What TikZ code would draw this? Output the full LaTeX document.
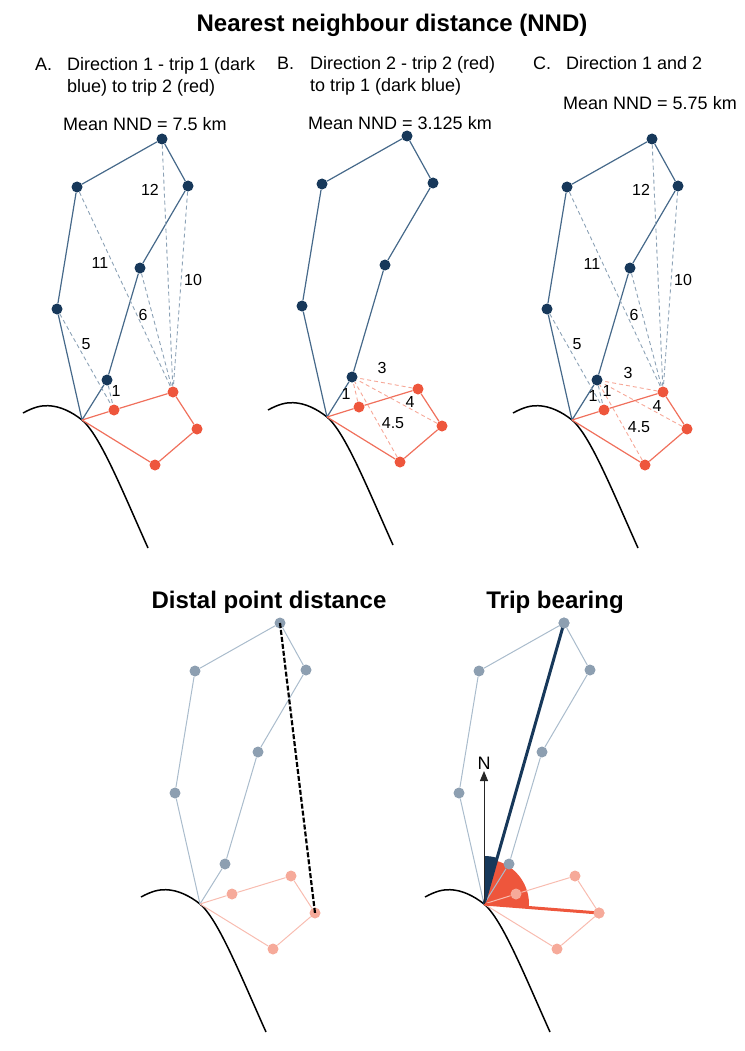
\documentclass[tikz,border=0pt]{standalone}
\usepackage{fontspec}
\setmainfont{Liberation Sans}
\usepackage{xcolor}
\definecolor{tripnavy}{RGB}{23,56,90}
\definecolor{tripblue}{RGB}{70,105,138}
\definecolor{tripdash}{RGB}{140,162,182}
\definecolor{tripred}{RGB}{238,86,60}
\definecolor{tripredline}{RGB}{240,112,92}
\definecolor{tripreddash}{RGB}{246,168,152}
\definecolor{fadeblue}{RGB}{141,159,177}
\definecolor{fadeblueline}{RGB}{170,188,204}
\definecolor{fadered}{RGB}{246,170,154}
\definecolor{faderedline}{RGB}{248,188,176}
\usetikzlibrary{arrows.meta, positioning, calc}

\begin{document}
\begin{tikzpicture}[x=1pt, y=-1pt,
  bdot/.style={circle, fill=tripnavy, inner sep=0pt, minimum size=11pt},
  rdot/.style={circle, fill=tripred, inner sep=0pt, minimum size=11pt},
  gdot/.style={circle, fill=fadeblue, inner sep=0pt, minimum size=11pt},
  sdot/.style={circle, fill=fadered, inner sep=0pt, minimum size=11pt},
  bline/.style={tripblue, line width=1.2pt},
  rline/.style={tripredline, line width=1.2pt},
  gline/.style={fadeblueline, line width=1pt},
  sline/.style={faderedline, line width=1pt},
  bdash/.style={tripdash, line width=0.9pt, dash pattern=on 4pt off 3pt},
  rdash/.style={tripreddash, line width=0.9pt, dash pattern=on 4pt off 3pt},
  coast/.style={black, line width=1.5pt},
  txt/.style={font=\fontsize{18}{22}\selectfont, inner sep=0pt},
  lbl/.style={font=\fontsize{16}{19}\selectfont, inner sep=0pt},
  heading/.style={font=\fontsize{24}{28}\selectfont\bfseries, inner sep=0pt}]
  \useasboundingbox (0,0) rectangle (744,1051);

  % Headings
  \node[heading, anchor=base] (nndtitle) at (392,32) {Nearest neighbour distance (NND)};
  \node[heading, anchor=base] (dpdtitle) at (269,608) {Distal point distance};
  \node[heading, anchor=base] (bearingtitle) at (555,608) {Trip bearing};

  % Panel headers
  \node[txt, anchor=base west] (A-tag) at (35,70.5) {A.};
  \node[txt, anchor=base west] (A-head1) at (67,70.5) {Direction 1 - trip 1 (dark};
  \node[txt, anchor=base west] (A-head2) at ([yshift=-22pt]A-head1.base west) {blue) to trip 2 (red)};
  \node[txt, anchor=base west] (A-mean) at (63,130.5) {Mean NND = 7.5 km};
  \node[txt, anchor=base west] (B-tag) at (277,69.5) {B.};
  \node[txt, anchor=base west] (B-head1) at (310,69.5) {Direction 2 - trip 2 (red)};
  \node[txt, anchor=base west] (B-head2) at ([yshift=-22pt]B-head1.base west) {to trip 1 (dark blue)};
  \node[txt, anchor=base west] (B-mean) at (308,129.5) {Mean NND = 3.125 km};
  \node[txt, anchor=base west] (C-tag) at (533,69.5) {C.};
  \node[txt, anchor=base west] (C-head1) at (566,69.5) {Direction 1 and 2};
  \node[txt, anchor=base west] (C-mean) at (563,109.5) {Mean NND = 5.75 km};

  % --- Panel A: trip 1 to trip 2 ---
  \begin{scope}[shift={(82,420)}]
    \draw[coast] (-59,-7) .. controls (-48,-13) and (-41,-14.5) .. (-34,-14.3)
      .. controls (-22,-14) and (-10,-8) .. (0,0) .. controls (18,15) and (40,70) .. (66,128);
    \coordinate (A-o) at (0,0);
    \node[bdot] (A-top) at (80,-281) {};
    \node[bdot] (A-ul) at (-5,-233) {};
    \node[bdot] (A-ur) at (106,-234) {};
    \node[bdot] (A-mid) at (58,-152) {};
    \node[bdot] (A-left) at (-25,-111) {};
    \node[bdot] (A-low) at (25,-40) {};
    \node[rdot] (A-r1) at (32,-10) {};
    \node[rdot] (A-r2) at (91,-28) {};
    \node[rdot] (A-r3) at (115,9) {};
    \node[rdot] (A-r4) at (73,45) {};
    \draw[bline] (A-o) -- (A-low) -- (A-mid) -- (A-ur) -- (A-top) -- (A-ul) -- (A-left) -- (A-o);
    \draw[rline] (A-o) -- (A-r1) -- (A-r2) -- (A-r3) -- (A-r4) -- (A-o);
    \draw[bdash] (A-top) -- (A-r2);
    \draw[bdash] (A-ur) -- (A-r2);
    \draw[bdash] (A-ul) -- (A-r2);
    \draw[bdash] (A-mid) -- (A-r2);
    \draw[bdash] (A-left) -- (A-r1);
    \draw[bdash] (A-low) -- (A-r1);
    \node[lbl] (A-l12) at (68,-230) {12};
    \node[lbl] (A-l11) at (18,-157) {11};
    \node[lbl] (A-l10) at (111,-140) {10};
    \node[lbl] (A-l6) at (61,-105) {6};
    \node[lbl] (A-l5) at (4,-76) {5};
    \node[lbl] (A-l1) at (34,-29) {1};
  \end{scope}

  % --- Panel B: trip 2 to trip 1 ---
  \begin{scope}[shift={(327,417)}]
    \draw[coast] (-59,-7) .. controls (-48,-13) and (-41,-14.5) .. (-34,-14.3)
      .. controls (-22,-14) and (-10,-8) .. (0,0) .. controls (18,15) and (40,70) .. (66,128);
    \coordinate (B-o) at (0,0);
    \node[bdot] (B-top) at (80,-281) {};
    \node[bdot] (B-ul) at (-5,-233) {};
    \node[bdot] (B-ur) at (106,-234) {};
    \node[bdot] (B-mid) at (58,-152) {};
    \node[bdot] (B-left) at (-25,-111) {};
    \node[bdot] (B-low) at (25,-40) {};
    \node[rdot] (B-r1) at (32,-10) {};
    \node[rdot] (B-r2) at (91,-28) {};
    \node[rdot] (B-r3) at (115,9) {};
    \node[rdot] (B-r4) at (73,45) {};
    \draw[bline] (B-o) -- (B-low) -- (B-mid) -- (B-ur) -- (B-top) -- (B-ul) -- (B-left) -- (B-o);
    \draw[rline] (B-o) -- (B-r1) -- (B-r2) -- (B-r3) -- (B-r4) -- (B-o);
    \draw[rdash] (B-r1) -- (B-low);
    \draw[rdash] (B-r2) -- (B-low);
    \draw[rdash] (B-r3) -- (B-low);
    \draw[rdash] (B-r4) -- (B-low);
    \node[lbl] (B-l1) at (19,-23) {1};
    \node[lbl] (B-l3) at (55,-49) {3};
    \node[lbl] (B-l4) at (83,-15) {4};
    \node[lbl] (B-l45) at (66,6) {4.5};
  \end{scope}

  % --- Panel C: both directions ---
  \begin{scope}[shift={(572,420)}]
    \draw[coast] (-59,-7) .. controls (-48,-13) and (-41,-14.5) .. (-34,-14.3)
      .. controls (-22,-14) and (-10,-8) .. (0,0) .. controls (18,15) and (40,70) .. (66,128);
    \coordinate (C-o) at (0,0);
    \node[bdot] (C-top) at (80,-281) {};
    \node[bdot] (C-ul) at (-5,-233) {};
    \node[bdot] (C-ur) at (106,-234) {};
    \node[bdot] (C-mid) at (58,-152) {};
    \node[bdot] (C-left) at (-25,-111) {};
    \node[bdot] (C-low) at (25,-40) {};
    \node[rdot] (C-r1) at (32,-10) {};
    \node[rdot] (C-r2) at (91,-28) {};
    \node[rdot] (C-r3) at (115,9) {};
    \node[rdot] (C-r4) at (73,45) {};
    \draw[bline] (C-o) -- (C-low) -- (C-mid) -- (C-ur) -- (C-top) -- (C-ul) -- (C-left) -- (C-o);
    \draw[rline] (C-o) -- (C-r1) -- (C-r2) -- (C-r3) -- (C-r4) -- (C-o);
    \draw[bdash] (C-top) -- (C-r2);
    \draw[bdash] (C-ur) -- (C-r2);
    \draw[bdash] (C-ul) -- (C-r2);
    \draw[bdash] (C-mid) -- (C-r2);
    \draw[bdash] (C-left) -- (C-r1);
    \draw[bdash] (C-low) -- (C-r1);
    \draw[rdash] (C-r2) -- (C-low);
    \draw[rdash] (C-r3) -- (C-low);
    \draw[rdash] (C-r4) -- (C-low);
    \node[lbl] (C-l12) at (69,-230) {12};
    \node[lbl] (C-l11) at (20,-156) {11};
    \node[lbl] (C-l10) at (111,-140) {10};
    \node[lbl] (C-l6) at (62,-105) {6};
    \node[lbl] (C-l5) at (5,-76) {5};
    \node[lbl] (C-l3) at (56,-47) {3};
    \node[lbl] (C-l1a) at (21,-24) {1};
    \node[lbl] (C-l1b) at (35,-29) {1};
    \node[lbl] (C-l4) at (85,-14) {4};
    \node[lbl] (C-l45) at (67,7) {4.5};
  \end{scope}

  % --- Distal point distance ---
  \begin{scope}[shift={(200,904)}]
    \draw[coast] (-59,-7) .. controls (-48,-13) and (-41,-14.5) .. (-34,-14.3)
      .. controls (-22,-14) and (-10,-8) .. (0,0) .. controls (18,15) and (40,70) .. (66,128);
    \coordinate (D-o) at (0,0);
    \node[gdot] (D-top) at (80,-281) {};
    \node[gdot] (D-ul) at (-5,-233) {};
    \node[gdot] (D-ur) at (106,-234) {};
    \node[gdot] (D-mid) at (58,-152) {};
    \node[gdot] (D-left) at (-25,-111) {};
    \node[gdot] (D-low) at (25,-40) {};
    \node[sdot] (D-r1) at (32,-10) {};
    \node[sdot] (D-r2) at (91,-28) {};
    \node[sdot] (D-r3) at (115,9) {};
    \node[sdot] (D-r4) at (73,45) {};
    \draw[gline] (D-o) -- (D-low) -- (D-mid) -- (D-ur) -- (D-top) -- (D-ul) -- (D-left) -- (D-o);
    \draw[sline] (D-o) -- (D-r1) -- (D-r2) -- (D-r3) -- (D-r4) -- (D-o);
    \draw[black, line width=2.2pt, dash pattern=on 5pt off 2pt] (D-top.center) -- (D-r3.center);
  \end{scope}

  % --- Trip bearing ---
  \begin{scope}[shift={(484,904)}]
    \fill[tripnavy] (0,0) -- (-90:48) arc[start angle=-90, end angle=-74.1, radius=48] -- cycle;
    \fill[tripred] (0,0) -- (-74.1:45) arc[start angle=-74.1, end angle=4.5, radius=45] -- cycle;
    \draw[coast] (-59,-7) .. controls (-48,-13) and (-41,-14.5) .. (-34,-14.3)
      .. controls (-22,-14) and (-10,-8) .. (0,0) .. controls (18,15) and (40,70) .. (66,128);
    \coordinate (E-o) at (0,0);
    \coordinate (E-n) at (0,-133);
    \node[gdot] (E-top) at (80,-281) {};
    \node[gdot] (E-ul) at (-5,-233) {};
    \node[gdot] (E-ur) at (106,-234) {};
    \node[gdot] (E-mid) at (58,-152) {};
    \node[gdot] (E-left) at (-25,-111) {};
    \node[gdot] (E-low) at (25,-40) {};
    \node[sdot] (E-r1) at (32,-10) {};
    \node[sdot] (E-r2) at (91,-28) {};
    \node[sdot] (E-r3) at (115,9) {};
    \node[sdot] (E-r4) at (73,45) {};
    \draw[gline] (E-o) -- (E-low) -- (E-mid) -- (E-ur) -- (E-top) -- (E-ul) -- (E-left) -- (E-o);
    \draw[sline] (E-o) -- (E-r1) -- (E-r2) -- (E-r3) -- (E-r4) -- (E-o);
    \draw[tripnavy, line width=3pt] (E-o) -- (E-top.center);
    \draw[tripred, line width=3pt] (E-o) -- (E-r3.center);
    \node[gdot] at (E-top) {};
    \node[sdot] at (E-r3) {};
    \draw[black!85, line width=1pt, -{Triangle[length=10pt, width=8pt]}] (E-o) -- (E-n);
    \node[txt, above=1pt of E-n] (E-north) {N};
  \end{scope}
\end{tikzpicture}
\end{document}
